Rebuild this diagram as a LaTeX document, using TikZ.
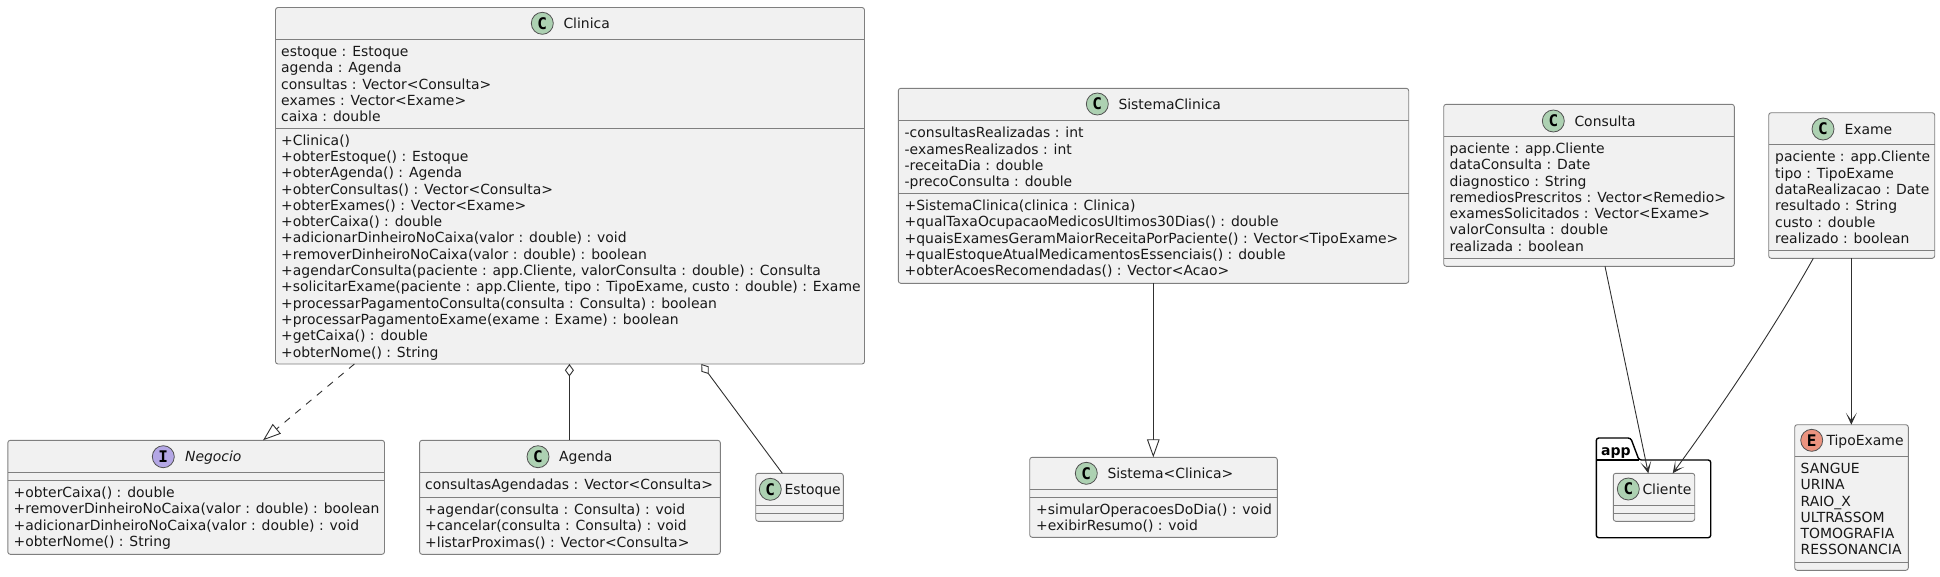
\documentclass[tikz,border=0pt]{standalone}
\usepackage{fontspec}
\setmainfont{DejaVu Sans}
\newfontfamily\spotfamily{DejaVu Sans Mono}
\usetikzlibrary{arrows.meta,calc}
\definecolor{boxfill}{HTML}{F1F1F1}
\definecolor{boxline}{HTML}{7F7F7F}
\definecolor{ink}{HTML}{181818}
\definecolor{wire}{HTML}{303030}
\definecolor{spotC}{HTML}{ADD1B2}
\definecolor{spotI}{HTML}{B4A7E5}
\definecolor{spotE}{HTML}{EB937F}
\tikzset{
  umlbox/.style={draw=boxline,fill=boxfill,line width=0.9pt,rounded corners=2.5pt,inner sep=0pt,outer sep=0pt,anchor=north west},
  sepline/.style={draw=boxline,line width=0.9pt},
  spot/.style={circle,draw=ink!75,line width=0.8pt,minimum size=22pt,inner sep=0pt,text=black,font=\spotfamily\bfseries\fontsize{16}{16}\selectfont},
  classname/.style={anchor=base west,inner sep=0pt,text=ink,font=\fontsize{13.93}{16.3}\selectfont},
  members/.style={anchor=north west,inner sep=0pt,align=left,text=ink,font=\fontsize{13.93}{16.3}\selectfont},
  wireline/.style={draw=wire,line width=0.9pt},
  openhead/.style={-{Stealth[length=12pt,width=11pt,inset=7.5pt,fill=wire]}},
  hollowtri/.style={-{Triangle[open,length=18pt,width=12.6pt,fill=white]}},
  pkgline/.style={draw=black,line width=1.4pt,line join=round},
}
\newcommand{\umlclass}[5]{\node[umlbox,minimum width={#4-#2},minimum height={#5-#3}] (#1) at (#2,#3) {};}
\newcommand{\hsep}[2]{\draw[sepline] (#1.west |- 0,#2) -- (#1.east |- 0,#2);}
\newcommand{\spotat}[5]{\node[spot,fill=spot#2] (#1spot) at (#3,#4) {#2};\node[classname] (#1name) at (#5,#4+5) {\csname namefor#1\endcsname};}
\newcommand{\mem}[4]{\node[members] (#1) at (#2,#3+3.9) {\rule{0pt}{13pt}#4};}
\expandafter\def\csname nameforclinica\endcsname{Clinica}
\expandafter\def\csname namefornegocio\endcsname{\itshape Negocio}
\expandafter\def\csname nameforagenda\endcsname{Agenda}
\expandafter\def\csname nameforestoque\endcsname{Estoque}
\expandafter\def\csname nameforsistemaclinica\endcsname{SistemaClinica}
\expandafter\def\csname nameforsistema\endcsname{Sistema<Clinica>}
\expandafter\def\csname nameforconsulta\endcsname{Consulta}
\expandafter\def\csname nameforexame\endcsname{Exame}
\expandafter\def\csname nameforcliente\endcsname{Cliente}
\expandafter\def\csname namefortipoexame\endcsname{TipoExame}
\begin{document}
\begin{tikzpicture}[x=1pt,y=-1pt]
\useasboundingbox (0,0) rectangle (1940,576);
% package
\node[inner sep=0pt,anchor=base west,font=\bfseries\fontsize{14}{16}\selectfont] (apptitle) at (1601,455) {app};
\coordinate (pkgA) at (1596.3,460);
\coordinate (pkgB) at (1596.3,438);
\coordinate (pkgC) at (1630.7,438);
\coordinate (pkgD) at (1639,460);
\coordinate (pkgE) at (1710.7,460);
\coordinate (pkgF) at (1710.7,537.7);
\coordinate (pkgG) at (1596.3,537.7);
\draw[pkgline,rounded corners=2.5pt] (pkgA) -- (pkgB) -- (pkgC) -- (pkgD) -- (pkgE) -- (pkgF) -- (pkgG) -- cycle;
\draw[pkgline] (pkgA) -- (pkgD);
% Clinica
\umlclass{clinica}{275.5}{7.5}{864.5}{364}
\hsep{clinica}{39.5}\hsep{clinica}{128}
\spotat{clinica}{C}{542.3}{23.3}{563.3}
\mem{clinicaA}{281}{39.5}{estoque : Estoque\\agenda : Agenda\\consultas : Vector<Consulta>\\exames : Vector<Exame>\\caixa : double}
\mem{clinicaM}{281}{128}{+Clinica()\\+obterEstoque() : Estoque\\+obterAgenda() : Agenda\\+obterConsultas() : Vector<Consulta>\\+obterExames() : Vector<Exame>\\+obterCaixa() : double\\+adicionarDinheiroNoCaixa(valor : double) : void\\+removerDinheiroNoCaixa(valor : double) : boolean\\+agendarConsulta(paciente : app.Cliente, valorConsulta : double) : Consulta\\+solicitarExame(paciente : app.Cliente, tipo : TipoExame, custo : double) : Exame\\+processarPagamentoConsulta(consulta : Consulta) : boolean\\+processarPagamentoExame(exame : Exame) : boolean\\+getCaixa() : double\\+obterNome() : String}
% Negocio
\umlclass{negocio}{7.8}{440.3}{384.5}{554.3}
\hsep{negocio}{472.3}\hsep{negocio}{480.3}
\spotat{negocio}{I}{163.3}{456.7}{184.9}
\mem{negocioM}{13.5}{480.3}{+obterCaixa() : double\\+removerDinheiroNoCaixa(valor : double) : boolean\\+adicionarDinheiroNoCaixa(valor : double) : void\\+obterNome() : String}
% Agenda
\umlclass{agenda}{419.6}{440.3}{720.3}{554.3}
\hsep{agenda}{472.3}\hsep{agenda}{497.3}
\spotat{agenda}{C}{538}{456.7}{559}
\mem{agendaA}{425}{472.3}{consultasAgendadas : Vector<Consulta>}
\mem{agendaM}{425}{497.3}{+agendar(consulta : Consulta) : void\\+cancelar(consulta : Consulta) : void\\+listarProximas() : Vector<Consulta>}
% Estoque
\umlclass{estoque}{755.7}{473.3}{843.3}{521.3}
\hsep{estoque}{505.3}\hsep{estoque}{513.3}
\spotat{estoque}{C}{770.3}{489.3}{784.3}
% SistemaClinica
\umlclass{sistemaclinica}{898.3}{88.3}{1408.7}{283.3}
\hsep{sistemaclinica}{120.7}\hsep{sistemaclinica}{193.3}
\spotat{sistemaclinica}{C}{1097.3}{104}{1118.3}
\mem{sistemaclinicaA}{904.5}{120.7}{-consultasRealizadas : int\\-examesRealizados : int\\-receitaDia : double\\-precoConsulta : double}
\mem{sistemaclinicaM}{904.5}{193.3}{+SistemaClinica(clinica : Clinica)\\+qualTaxaOcupacaoMedicosUltimos30Dias() : double\\+quaisExamesGeramMaiorReceitaPorPaciente() : Vector<TipoExame>\\+qualEstoqueAtualMedicamentosEssenciais() : double\\+obterAcoesRecomendadas() : Vector<Acao>}
% Sistema<Clinica>
\umlclass{sistema}{1029.7}{457.3}{1277.3}{537.3}
\hsep{sistema}{489.3}\hsep{sistema}{497.3}
\spotat{sistema}{C}{1086.3}{473.3}{1107.3}
\mem{sistemaM}{1036}{497.3}{+simularOperacoesDoDia() : void\\+exibirResumo() : void}
% Consulta
\umlclass{consulta}{1443.7}{104.3}{1734.3}{266.3}
\hsep{consulta}{136.3}\hsep{consulta}{258.3}
\spotat{consulta}{C}{1553.3}{121}{1574.3}
\mem{consultaA}{1449.5}{136.3}{paciente : app.Cliente\\dataConsulta : Date\\diagnostico : String\\remediosPrescritos : Vector<Remedio>\\examesSolicitados : Vector<Exame>\\valorConsulta : double\\realizada : boolean}
% Exame
\umlclass{exame}{1768.7}{112.7}{1934.7}{258.3}
\hsep{exame}{144.7}\hsep{exame}{250.3}
\spotat{exame}{C}{1823}{129}{1844.3}
\mem{exameA}{1775}{144.7}{paciente : app.Cliente\\tipo : TipoExame\\dataRealizacao : Date\\resultado : String\\custo : double\\realizado : boolean}
% Cliente
\umlclass{cliente}{1613.3}{473.3}{1694.7}{521.3}
\hsep{cliente}{505.3}\hsep{cliente}{513.3}
\spotat{cliente}{C}{1628.3}{489}{1642.3}
% TipoExame
\umlclass{tipoexame}{1794.7}{424.7}{1908.3}{570.3}
\hsep{tipoexame}{456.3}\hsep{tipoexame}{562.3}
\spotat{tipoexame}{E}{1811.7}{440.3}{1826.3}
\mem{tipoexameA}{1800.5}{456.3}{SANGUE\\URINA\\RAIO\_X\\ULTRASSOM\\TOMOGRAFIA\\RESSONANCIA}
% connectors
\draw[wireline,dash pattern=on 7pt off 7pt,hollowtri] (clinica.south west -| 354.4,0) -- (negocio.north west -| 263,0);
\draw[wireline,hollowtri] (sistemaclinica.south -| 1153.3,0) -- (sistema.north -| 1153.3,0);
\draw[wireline,{Diamond[open,length=12.5pt,width=9pt,fill=white]}-] (clinica.south -| 569.4,0) -- (agenda.north -| 569.4,0);
\draw[wireline,{Diamond[open,length=12.5pt,width=9pt,fill=white]}-] (clinica.south -| 701.3,0) -- (estoque.north -| 782.3,0);
\draw[wireline,openhead] (consulta.south -| 1605,0) -- (cliente.north -| 1648.3,0);
\draw[wireline,openhead] (exame.south -| 1813.3,0) .. controls (1780,318) and (1730,395) .. (cliente.north -| 1672.7,0);
\draw[wireline,openhead] (exame.south -| 1851.3,0) -- (tipoexame.north -| 1851.3,0);
\end{tikzpicture}
\end{document}
